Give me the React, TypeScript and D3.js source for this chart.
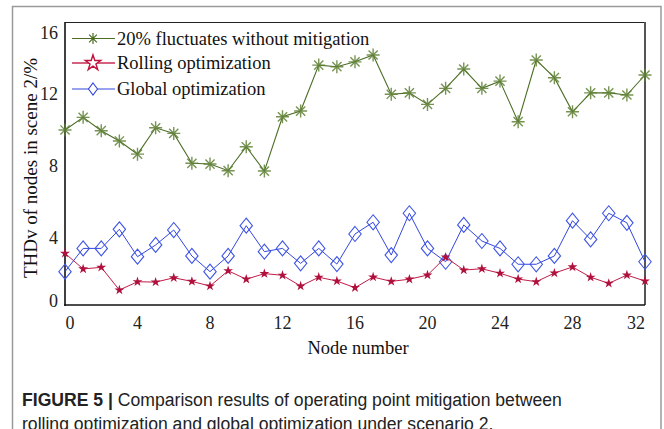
import React, { useEffect, useRef } from 'react';
import * as d3 from 'd3';

// node index 0..32
const nodes: number[] = d3.range(0, 33);

// THDv (%) per node
const withoutMitigation: number[] = [
  10.01, 10.71, 9.97, 9.40, 8.67, 10.13, 9.82, 8.16, 8.12, 7.75, 9.08,
  7.73, 10.74, 11.06, 13.61, 13.52, 13.79, 14.17, 11.99, 12.07, 11.43,
  12.32, 13.39, 12.32, 12.72, 10.47, 13.89, 12.91, 11.02, 12.07, 12.07,
  11.95, 13.06
];

const rollingOpt: number[] = [
  3.17, 2.30, 2.39, 1.13, 1.59, 1.57, 1.81, 1.61, 1.35, 2.20, 1.73,
  2.04, 1.95, 1.35, 1.84, 1.63, 1.26, 1.85, 1.61, 1.73, 1.96,
  2.95, 2.24, 2.31, 2.06, 1.74, 1.59, 2.07, 2.41, 1.84, 1.50,
  1.96, 1.63
];

const globalOpt: number[] = [
  2.15, 3.44, 3.44, 4.50, 2.98, 3.63, 4.46, 3.02, 2.15, 3.02, 4.70,
  3.26, 3.44, 2.61, 3.44, 2.57, 4.24, 4.89, 3.07, 5.39, 3.44,
  2.70, 4.74, 3.85, 3.44, 2.56, 2.56, 3.02, 4.98, 3.94, 5.39,
  4.86, 2.70
];

const xTicks: number[] = [0, 4, 8, 12, 16, 20, 24, 28, 32];
const yTicks: number[] = [0, 4, 8, 12, 16];

const seriesNames: string[] = [
  '20% fluctuates without mitigation',
  'Rolling optimization',
  'Global optimization'
];

const WIDTH = 664;
const HEIGHT = 429;
const SERIF = '"Liberation Serif", "Times New Roman", serif';
const SANS = '"Liberation Sans", Arial, sans-serif';

const GREEN = '#4b6d24';
const RED = '#c01c48';
const BLUE = '#3346dd';

const App: React.FC = () => {
  const svgRef = useRef<SVGSVGElement>(null);

  useEffect(() => {
    if (!svgRef.current) return;
    const root = d3.select(svgRef.current);
    root.selectAll('*').remove();

    const left = 65;
    const right = 645;
    const top = 22;
    const bottom = 305;

    const x = d3.scaleLinear().domain([0, 32]).range([left, right]);
    const y = d3.scaleLinear().domain([0.3, 16]).range([bottom, top]);

    // outer figure frame
    root.append('rect')
      .attr('x', 12.5)
      .attr('y', 6.5)
      .attr('width', 648.5)
      .attr('height', 440)
      .attr('fill', 'white')
      .attr('stroke', '#9a9a9a')
      .attr('stroke-width', 1.5);

    // plot box
    root.append('line')
      .attr('x1', left).attr('x2', right)
      .attr('y1', top + 0.5).attr('y2', top + 0.5)
      .attr('stroke', '#222').attr('stroke-width', 1);
    root.append('line')
      .attr('x1', right).attr('x2', right)
      .attr('y1', top).attr('y2', bottom)
      .attr('stroke', '#555').attr('stroke-width', 2);
    root.append('line')
      .attr('x1', left).attr('x2', left)
      .attr('y1', top).attr('y2', bottom + 1)
      .attr('stroke', '#111').attr('stroke-width', 1.6);
    root.append('line')
      .attr('x1', left - 0.8).attr('x2', right)
      .attr('y1', bottom).attr('y2', bottom)
      .attr('stroke', '#111').attr('stroke-width', 1.6);

    // tick labels (kept inside the axis extent like the original)
    root.append('g')
      .selectAll('text')
      .data(xTicks)
      .enter()
      .append('text')
      .attr('x', d => Math.max(left + 5, Math.min(right - 9, x(d))))
      .attr('y', 329)
      .attr('text-anchor', 'middle')
      .attr('font-family', SERIF)
      .attr('font-size', 18)
      .attr('fill', '#222')
      .text(d => d);

    root.append('g')
      .selectAll('text')
      .data(yTicks)
      .enter()
      .append('text')
      .attr('x', 58)
      .attr('y', d => Math.max(33, Math.min(301, y(d))))
      .attr('dy', '0.34em')
      .attr('text-anchor', 'end')
      .attr('font-family', SERIF)
      .attr('font-size', 18)
      .attr('fill', '#222')
      .text(d => d);

    // axis titles
    root.append('text')
      .attr('x', 358)
      .attr('y', 354)
      .attr('text-anchor', 'middle')
      .attr('font-family', SERIF)
      .attr('font-size', 18.5)
      .attr('fill', '#111')
      .text('Node number');

    root.append('text')
      .attr('transform', 'translate(37, 168) rotate(-90)')
      .attr('text-anchor', 'middle')
      .attr('font-family', SERIF)
      .attr('font-size', 19)
      .attr('fill', '#111')
      .text('THDv of nodes in scene 2/%');

    const line = d3.line<number>()
      .x((_, i) => x(nodes[i]))
      .y(d => y(d));

    const asterisk = (r: number) => {
      const k = r * Math.SQRT1_2;
      return `M${-r},0L${r},0M0,${-r}L0,${r}M${-k},${-k}L${k},${k}M${-k},${k}L${k},${-k}`;
    };
    const diamond = (w: number, h: number) =>
      `M0,${-h}L${w},0L0,${h}L${-w},0Z`;
    const star = (r: number) => d3.symbol(d3.symbolStar, Math.PI * r * r * 0.75)() as string;

    // global optimization
    root.append('path')
      .datum(globalOpt)
      .attr('d', line)
      .attr('fill', 'none')
      .attr('stroke', BLUE)
      .attr('stroke-width', 1);
    root.append('g')
      .selectAll('path')
      .data(globalOpt)
      .enter()
      .append('path')
      .attr('transform', (d, i) => `translate(${x(nodes[i])},${y(d)})`)
      .attr('d', diamond(6.2, 7.5))
      .attr('fill', 'none')
      .attr('stroke', '#3f55e6')
      .attr('stroke-width', 1.1);

    // rolling optimization
    root.append('path')
      .datum(rollingOpt)
      .attr('d', line)
      .attr('fill', 'none')
      .attr('stroke', RED)
      .attr('stroke-width', 1);
    root.append('g')
      .selectAll('path')
      .data(rollingOpt)
      .enter()
      .append('path')
      .attr('transform', (d, i) => `translate(${x(nodes[i])},${y(d)})`)
      .attr('d', star(3.6))
      .attr('fill', '#b0103c');

    // without mitigation
    root.append('path')
      .datum(withoutMitigation)
      .attr('d', line)
      .attr('fill', 'none')
      .attr('stroke', GREEN)
      .attr('stroke-width', 1.1);
    root.append('g')
      .selectAll('path')
      .data(withoutMitigation)
      .enter()
      .append('path')
      .attr('transform', (d, i) => `translate(${x(nodes[i])},${y(d)})`)
      .attr('d', asterisk(6.5))
      .attr('fill', 'none')
      .attr('stroke', '#5f8035')
      .attr('stroke-opacity', 0.85)
      .attr('stroke-width', 1.4);

    // legend
    const legend = root.append('g');
    const rows = [
      { y: 38.5, color: GREEN, marker: 'asterisk' },
      { y: 63, color: '#d3617f', marker: 'star' },
      { y: 89, color: BLUE, marker: 'diamond' }
    ];
    rows.forEach((r, i) => {
      legend.append('line')
        .attr('x1', 72).attr('x2', 115)
        .attr('y1', r.y).attr('y2', r.y)
        .attr('stroke', r.color)
        .attr('stroke-width', r.marker === 'star' ? 1.8 : 1.1);
      const m = legend.append('path')
        .attr('transform', `translate(93,${r.y})`);
      if (r.marker === 'asterisk') {
        m.attr('d', asterisk(5.5)).attr('fill', 'none')
          .attr('stroke', GREEN).attr('stroke-width', 1.2);
      } else if (r.marker === 'star') {
        m.attr('d', star(5.6)).attr('fill', 'white')
          .attr('stroke', '#c0103c').attr('stroke-width', 1.4);
      } else {
        m.attr('d', diamond(4.5, 6)).attr('fill', 'white')
          .attr('stroke', BLUE).attr('stroke-width', 1.1);
      }
      legend.append('text')
        .attr('x', 117)
        .attr('y', r.y)
        .attr('dy', '0.33em')
        .attr('font-family', SERIF)
        .attr('font-size', 18.5)
        .attr('fill', '#111')
        .text(seriesNames[i]);
    });

    // caption
    const cap1 = root.append('text')
      .attr('x', 22)
      .attr('y', 406)
      .attr('font-family', SANS)
      .attr('font-size', 17.6)
      .attr('fill', '#222');
    cap1.append('tspan').attr('font-weight', 'bold').text('FIGURE 5 |');
    cap1.append('tspan').text(' Comparison results of operating point mitigation between');

    root.append('text')
      .attr('x', 22)
      .attr('y', 430)
      .attr('font-family', SANS)
      .attr('font-size', 17.6)
      .attr('fill', '#222')
      .text('rolling optimization and global optimization under scenario 2.');
  }, []);

  return (
    <svg
      ref={svgRef}
      width={WIDTH}
      height={HEIGHT}
      style={{ position: 'absolute', left: 0, top: 0, background: 'white' }}
    />
  );
};

export default App;
